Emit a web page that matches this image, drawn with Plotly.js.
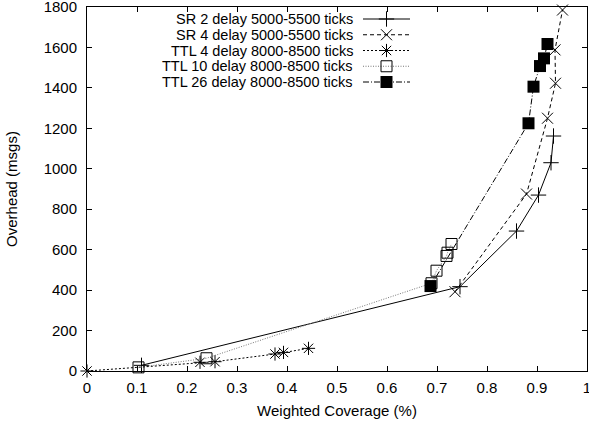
<!DOCTYPE html>
<html>
<head>
<meta charset="utf-8">
<script src="https://cdn.plot.ly/plotly-3.0.1.min.js"></script>
<style>html,body{margin:0;padding:0;background:#fff;}#chart{width:589px;height:425px;}</style>
</head>
<body>
<div id="chart"></div>
<script>
// ---- data ----
const seriesNames = ["SR 2 delay 5000-5500 ticks","SR 4 delay 5000-5500 ticks","TTL 4 delay 8000-8500 ticks","TTL 10 delay 8000-8500 ticks","TTL 26 delay 8000-8500 ticks"];
const sr2X = [0.109, 0.746, 0.859, 0.903, 0.928, 0.933];
const sr2Y = [28, 417, 692, 870, 1030, 1162];
const sr4X = [0.736, 0.879, 0.921, 0.937, 0.936, 0.951];
const sr4Y = [392, 875, 1250, 1423, 1588, 1785];
const ttl4X = [0, 0.226, 0.256, 0.376, 0.393, 0.443];
const ttl4Y = [0, 43, 46, 84, 92, 112];
const ttl10X = [0.103, 0.239, 0.689, 0.699, 0.719, 0.721, 0.729];
const ttl10Y = [18, 63, 434, 496, 569, 585, 628];
const ttl26X = [0.687, 0.883, 0.893, 0.906, 0.914, 0.921];
const ttl26Y = [420, 1225, 1406, 1508, 1546, 1617];
const xTicks = [0,0.1,0.2,0.3,0.4,0.5,0.6,0.7,0.8,0.9,1];
const xTickText = ["0","0.1","0.2","0.3","0.4","0.5","0.6","0.7","0.8","0.9","1"];
const yTicks = [0,200,400,600,800,1000,1200,1400,1600,1800];

// ---- styles ----
const styles = [
  {line:{color:'#000',width:1,dash:'solid'}, marker:{symbol:'cross-thin-open',size:11,color:'#000',line:{color:'#000',width:1}}},
  {line:{color:'#000',width:1,dash:'4px,3px'}, marker:{symbol:'x-thin-open',size:11,color:'#000',line:{color:'#000',width:1}}},
  {line:{color:'#000',width:1,dash:'2px,2px'}, marker:{symbol:'asterisk-open',size:11,color:'#000',line:{color:'#000',width:1}}},
  {line:{color:'#777',width:1,dash:'1px,1.5px'}, marker:{symbol:'square-open',size:11,color:'#000',line:{color:'#000',width:1}}},
  {line:{color:'#000',width:1,dash:'6px,2px,1px,2px'}, marker:{symbol:'square',size:12,color:'#000',line:{color:'#000',width:0}}}
];
const xs = [sr2X, sr4X, ttl4X, ttl10X, ttl26X];
const ys = [sr2Y, sr4Y, ttl4Y, ttl10Y, ttl26Y];

const traces = [];
for (let i = 0; i < 5; i++) {
  traces.push({x: xs[i], y: ys[i], name: seriesNames[i], type:'scatter', mode:'lines+markers',
    line: styles[i].line, marker: styles[i].marker, showlegend:false, hoverinfo:'skip', cliponaxis:false});
}
// legend samples in a pixel-unit overlay axis
const legRows = [19, 34.75, 50.5, 66.25, 82];
const annotations = [];
for (let i = 0; i < 5; i++) {
  traces.push({x:[363, 410], y:[legRows[i], legRows[i]], xaxis:'x2', yaxis:'y2', mode:'lines', line: styles[i].line, showlegend:false, hoverinfo:'skip'});
  traces.push({x:[386.5], y:[legRows[i]], xaxis:'x2', yaxis:'y2', mode:'markers', marker: styles[i].marker, showlegend:false, hoverinfo:'skip'});
  annotations.push({xref:'x2', yref:'y2', x:354, y:legRows[i], text: seriesNames[i], showarrow:false, xanchor:'right', yanchor:'middle',
    borderpad:0, font:{family:'Liberation Sans, Arial, sans-serif', size:14.5, color:'#000'}});
}

const font = {family:'Liberation Sans, Arial, sans-serif', size:15, color:'#000'};
const layout = {
  width:589, height:425,
  margin:{l:87, r:2, t:7, b:54, pad:0},
  paper_bgcolor:'#fff', plot_bgcolor:'#fff',
  font: font,
  showlegend:false,
  xaxis:{range:[0,1], tickvals:xTicks, ticktext:xTickText, ticks:'inside', ticklen:5, tickcolor:'#000', tickwidth:1,
    showline:true, linecolor:'#000', linewidth:1, mirror:'ticks', showgrid:false, zeroline:false, ticklabeloverflow:'allow',
    ticklabelstandoff:3,
    tickfont:font, title:{text:'Weighted Coverage (%)', font:font, standoff:10}, automargin:false},
  yaxis:{range:[0,1800], tickvals:yTicks, ticks:'inside', ticklen:5, tickcolor:'#000', tickwidth:1,
    showline:true, linecolor:'#000', linewidth:1, mirror:'ticks', showgrid:false, zeroline:false, ticklabeloverflow:'allow',
    ticklabelstandoff:6,
    tickfont:font, title:{text:'Overhead (msgs)', font:font, standoff:22}, automargin:false},
  xaxis2:{overlaying:'x', range:[87,587], visible:false, fixedrange:true},
  yaxis2:{overlaying:'y', range:[371,7], visible:false, fixedrange:true},
  annotations: annotations
};
Plotly.newPlot('chart', traces, layout, {staticPlot:true, displayModeBar:false});
</script>
</body>
</html>
